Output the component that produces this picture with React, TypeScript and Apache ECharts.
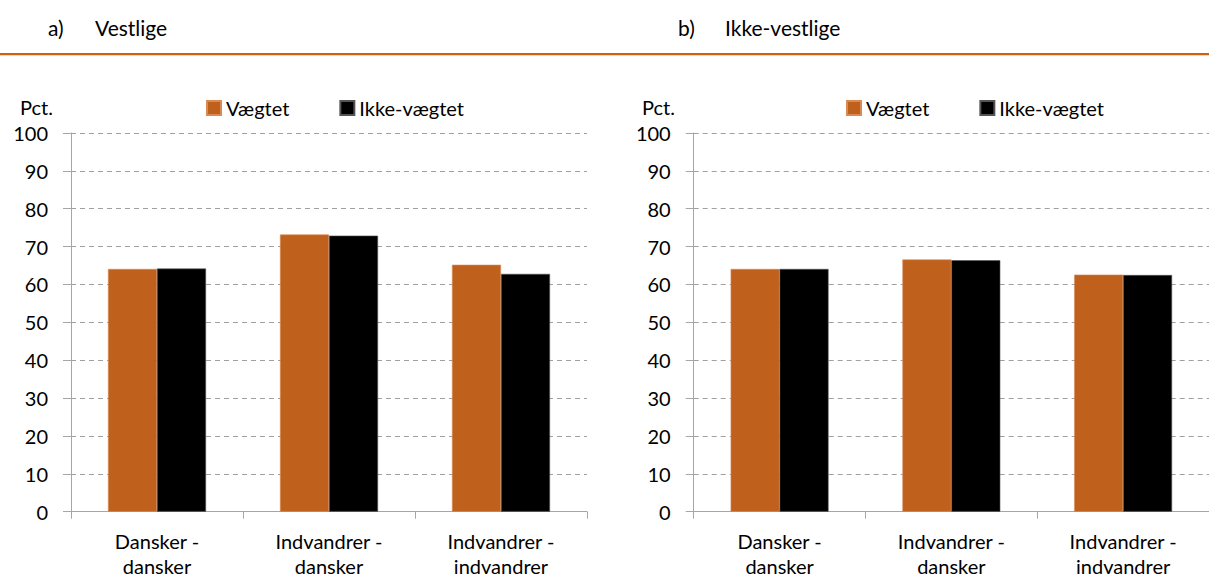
import React, { useEffect, useRef } from "react";
import * as echarts from "echarts";

const categories = ["Dansker -\ndansker", "Indvandrer -\ndansker", "Indvandrer -\nindvandrer"];
const seriesNames = ["Vægtet", "Ikke-vægtet"];
const vestligeVaegtet = [64.1, 73.2, 65.2];
const vestligeIkkeVaegtet = [64.2, 72.9, 62.8];
const ikkeVestligeVaegtet = [64.1, 66.6, 62.6];
const ikkeVestligeIkkeVaegtet = [64.1, 66.4, 62.5];
const panelTitles = [["a)", "Vestlige"], ["b)", "Ikke-vestlige"]];
const yUnit = "Pct.";

const FONT = "Lato, 'Open Sans', sans-serif";
const ORANGE = "#C0601D";
const BLACK = "#000000";
const AXIS_GRAY = "#A6A6A6";

export default function App() {
  const ref = useRef<HTMLDivElement>(null);
  useEffect(() => {
    if (!ref.current) return;
    const chart = echarts.init(ref.current, null, { renderer: "svg" });
    const grids = [
      { left: 71, top: 133, width: 516, height: 378.7 },
      { left: 693.7, top: 133, width: 522, height: 378.7 },
    ];
    const mkX = (i: number) => ({
      type: "category",
      gridIndex: i,
      data: categories,
      axisLine: { show: true, lineStyle: { color: AXIS_GRAY, width: 1 } },
      axisTick: { show: true, length: 7, lineStyle: { color: AXIS_GRAY } },
      axisLabel: { fontFamily: FONT, fontSize: 20, color: "#000", lineHeight: 25, margin: 17, interval: 0 },
    });
    const mkY = (i: number) => ({
      type: "value",
      gridIndex: i,
      min: 0,
      max: 100,
      interval: 10,
      axisLine: { show: true, lineStyle: { color: AXIS_GRAY, width: 1 } },
      axisTick: { show: true, length: 8, lineStyle: { color: AXIS_GRAY } },
      axisLabel: { fontFamily: FONT, fontSize: 20, color: "#000", margin: 23 },
      splitLine: { show: true, lineStyle: { color: "#A0A0A0", type: [5, 4], width: 1 } },
    });
    const mkBar = (name: string, data: number[], color: string, i: number) => ({
      type: "bar",
      name,
      data,
      xAxisIndex: i,
      yAxisIndex: i,
      barGap: "0%",
      barCategoryGap: "43%",
      itemStyle: { color, borderColor: color === BLACK ? "#555" : "#D98A55", borderWidth: 0.6 },
    });
    const mkLegend = (left: number) => ({
      left,
      top: 93,
      itemWidth: 14,
      itemHeight: 14,
      itemGap: 50,
      icon: "rect",
      data: seriesNames,
      textStyle: { fontFamily: FONT, fontSize: 20, color: "#000" },
    });
    const txt = (x: number, y: number, text: string, align = "left", size = 20) => ({
      type: "text",
      x,
      y,
      style: { text, fontFamily: FONT, fontSize: size, fill: "#000", align, verticalAlign: "middle" },
    });
    chart.setOption({
      animation: false,
      grid: grids,
      xAxis: [mkX(0), mkX(1)],
      yAxis: [mkY(0), mkY(1)],
      legend: [mkLegend(201), mkLegend(841)],
      series: [
        mkBar(seriesNames[0], vestligeVaegtet, ORANGE, 0),
        mkBar(seriesNames[1], vestligeIkkeVaegtet, BLACK, 0),
        mkBar(seriesNames[0], ikkeVestligeVaegtet, ORANGE, 1),
        mkBar(seriesNames[1], ikkeVestligeIkkeVaegtet, BLACK, 1),
      ],
      color: [ORANGE, BLACK],
      graphic: [
        { type: "rect", shape: { x: 0, y: 53, width: 1209, height: 2.3 }, style: { fill: "#D35F0A" } },
        txt(48, 27, panelTitles[0][0], "left", 21),
        txt(95, 27, panelTitles[0][1], "left", 21),
        txt(678, 27, panelTitles[1][0], "left", 21),
        txt(725, 27, panelTitles[1][1], "left", 21),
        txt(53, 107, yUnit, "right"),
        txt(675, 107, yUnit, "right"),
      ],
    });
    return () => chart.dispose();
  }, []);
  return (
    <div
      ref={ref}
      style={{ position: "fixed", left: 0, top: 0, width: 1209, height: 583, background: "#fff" }}
    />
  );
}
